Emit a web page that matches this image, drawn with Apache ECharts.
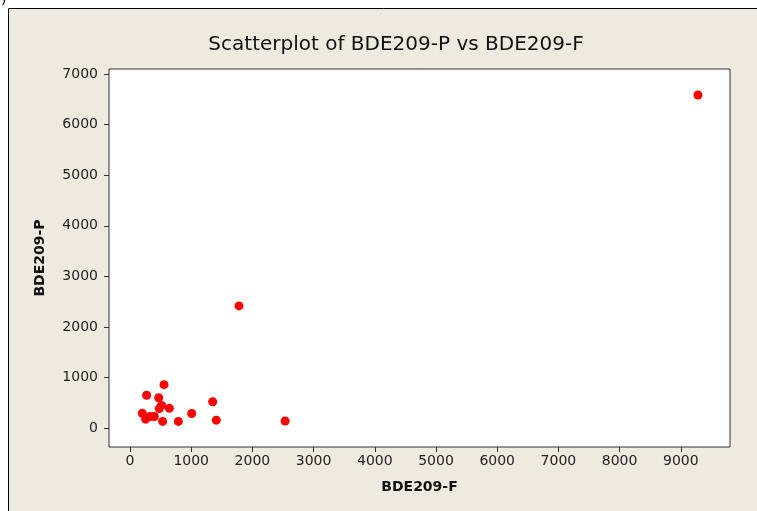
<!DOCTYPE html>
<html><head><meta charset="utf-8">
<script src="https://cdn.jsdelivr.net/npm/echarts@6/dist/echarts.min.js"></script>
<style>html,body{margin:0;padding:0;background:#fff}#c{width:757px;height:511px}</style>
</head><body><div id="c"></div>
<script>
const titleText = "Scatterplot of BDE209-P vs BDE209-F";
const xName = "BDE209-F";
const yName = "BDE209-P";
const xTicks = [0,1000,2000,3000,4000,5000,6000,7000,8000,9000];
const yTicks = [0,1000,2000,3000,4000,5000,6000,7000];
const bdeF = [9280,1781,2535,556,272,469,1351,518,643,479,1008,201,327,398,256,534,790,1410];
const bdeP = [6585,2415,140,858,649,598,520,448,390,384,287,292,228,228,175,131,131,156];

const points = bdeF.map((v,i)=>[v,bdeP[i]]);
const chart = echarts.init(document.getElementById('c'));
const font = '"DejaVu Sans", sans-serif';
chart.setOption({
  animation:false,
  backgroundColor:'#ffffff',
  graphic:[
    {type:'rect',z:-10,shape:{x:8.5,y:8.5,width:760,height:520},style:{fill:'#EEEAE0',stroke:'#000',lineWidth:1}},
    {type:'text',left:1,top:-7,style:{text:')',fontSize:14,fill:'#000',fontFamily:font}}
  ],
  title:{text:titleText,left:391,textAlign:'center',top:30,textStyle:{fontFamily:font,fontSize:20,fontWeight:'normal',color:'#111'}},
  grid:{left:109,top:69,right:27,bottom:64,show:true,backgroundColor:'#fff',borderColor:'#333',borderWidth:1},
  xAxis:{type:'value',min:-343,max:9804,
    name:xName,nameLocation:'middle',nameGap:33,nameTextStyle:{fontFamily:font,fontSize:14,fontWeight:'bold',color:'#111'},
    axisLine:{show:false,onZero:false},splitLine:{show:false},
    axisTick:{show:true,length:5,lineStyle:{color:'#333'},customValues:xTicks},
    axisLabel:{customValues:xTicks,formatter:v=>String(v),fontFamily:font,fontSize:14,color:'#222',margin:7}},
  yAxis:{type:'value',min:-375,max:7100,
    name:yName,nameLocation:'middle',nameGap:62,nameTextStyle:{fontFamily:font,fontSize:14,fontWeight:'bold',color:'#111'},
    axisLine:{show:false,onZero:false},splitLine:{show:false},
    axisTick:{show:true,length:5,lineStyle:{color:'#333'},customValues:yTicks},
    axisLabel:{customValues:yTicks,formatter:v=>String(v),fontFamily:font,fontSize:14,color:'#222',margin:11}},
  series:[{type:'scatter',data:points,symbol:'circle',symbolSize:9,itemStyle:{color:'#FF0000',opacity:1}}]
});
</script></body></html>
